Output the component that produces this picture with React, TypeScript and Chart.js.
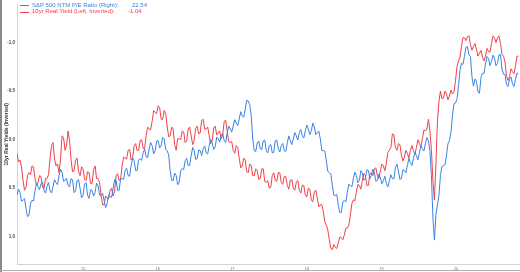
import React, { useEffect, useRef } from "react";
import { Chart, registerables } from "chart.js";

Chart.register(...registerables);

// Time axis (decimal years), roughly weekly spacing
const START_YEAR = 2014.61;
const STEP_YEARS = 0.02015;
const END_YEAR = 2021.36;

// 10yr real yield (%), plotted on an inverted left axis
const realYield = [
  0.14, 0.23, 0.21, 0.28, 0.42, 0.52, 0.49, 0.37, 0.34, 0.36, 0.27, 0.28, 0.40, 0.47, 0.44, 0.37,
  0.38, 0.49, 0.50, 0.40, 0.40, 0.36, 0.19, 0.06, 0.03, 0.20, 0.27, 0.25, 0.34, 0.20, -0.04, -0.02,
  0.11, 0.06, -0.09, 0.01, 0.21, 0.33, 0.32, 0.21, 0.19, 0.33, 0.37, 0.28, 0.30, 0.41, 0.42, 0.33,
  0.34, 0.45, 0.45, 0.31, 0.27, 0.40, 0.40, 0.44, 0.57, 0.67, 0.67, 0.58, 0.60, 0.61, 0.52, 0.50,
  0.58, 0.53, 0.37, 0.35, 0.42, 0.41, 0.27, 0.18, 0.19, 0.20, 0.11, 0.10, 0.21, 0.19, 0.06, 0.04,
  0.11, 0.11, 0.01, 0.00, 0.09, 0.09, -0.04, -0.13, -0.11, -0.10, -0.19, -0.30, -0.28, -0.27, -0.35, -0.33,
  -0.21, -0.21, -0.30, -0.27, -0.14, -0.03, -0.04, -0.13, -0.11, 0.05, 0.11, -0.01, -0.01, 0.00, -0.09, -0.08,
  0.03, 0.01, -0.11, -0.13, -0.04, 0.05, 0.01, -0.12, -0.14, -0.06, -0.07, -0.20, -0.21, -0.11, -0.11, -0.13,
  -0.04, 0.04, 0.01, -0.12, -0.14, -0.05, -0.07, -0.09, -0.01, -0.05, -0.19, -0.20, -0.09, 0.02, 0.03, 0.02,
  0.11, 0.14, 0.06, 0.08, 0.19, 0.29, 0.27, 0.19, 0.21, 0.33, 0.34, 0.25, 0.27, 0.37, 0.37, 0.30,
  0.32, 0.41, 0.40, 0.30, 0.30, 0.43, 0.44, 0.42, 0.50, 0.49, 0.37, 0.34, 0.42, 0.43, 0.34, 0.34,
  0.44, 0.46, 0.38, 0.38, 0.47, 0.51, 0.42, 0.41, 0.50, 0.52, 0.44, 0.42, 0.52, 0.55, 0.47, 0.47,
  0.57, 0.59, 0.50, 0.51, 0.62, 0.64, 0.54, 0.52, 0.60, 0.69, 0.67, 0.67, 0.74, 0.85, 0.88, 0.93,
  1.03, 1.12, 1.13, 1.08, 1.11, 1.12, 1.06, 1.00, 1.01, 1.03, 0.98, 0.91, 0.91, 0.88, 0.78, 0.66,
  0.62, 0.63, 0.54, 0.46, 0.47, 0.51, 0.42, 0.35, 0.37, 0.47, 0.47, 0.35, 0.34, 0.37, 0.30, 0.29,
  0.37, 0.40, 0.32, 0.25, 0.27, 0.32, 0.24, 0.13, 0.11, 0.08, -0.06, -0.05, 0.08, 0.11, 0.04, 0.05,
  0.16, 0.22, 0.18, 0.11, 0.14, 0.19, 0.11, 0.06, 0.11, 0.15, 0.08, 0.00, 0.04, 0.07, -0.01, -0.10,
  -0.09, -0.11, -0.21, -0.09, 0.11, 0.42, 0.62, 0.25, -0.19, -0.39, -0.50, -0.42, -0.43, -0.50, -0.47, -0.41,
  -0.45, -0.51, -0.47, -0.49, -0.60, -0.75, -0.81, -0.85, -0.96, -1.05, -1.05, -1.02, -1.06, -1.07, -0.98, -0.92,
  -0.96, -0.99, -0.93, -0.86, -0.89, -0.92, -0.85, -0.81, -0.86, -0.94, -0.91, -0.90, -0.99, -1.07, -1.05, -1.00,
  -1.05, -1.07, -0.99, -0.88, -0.86, -0.80, -0.66, -0.61, -0.65, -0.73, -0.70, -0.68, -0.76, -0.86, -0.86,
];

// S&P 500 forward (NTM) P/E ratio, plotted on a hidden right axis
const peRatio = [
  15.60, 15.93, 15.75, 15.30, 15.34, 15.43, 14.92, 14.49, 14.56, 15.20, 15.34, 15.30, 15.86, 16.22, 16.07, 15.90,
  16.22, 16.29, 15.86, 15.72, 16.07, 16.27, 15.86, 15.72, 16.07, 16.42, 16.27, 16.16, 16.64, 16.97, 16.79, 16.34,
  16.38, 16.50, 16.12, 16.05, 16.48, 16.42, 15.75, 15.82, 16.38, 16.42, 15.96, 15.48, 15.60, 16.19, 16.27, 15.61,
  15.44, 15.90, 15.86, 15.56, 15.75, 16.24, 16.12, 15.61, 15.60, 15.72, 15.34, 14.96, 15.18, 15.61, 15.54, 15.50,
  15.96, 16.42, 16.38, 15.87, 15.86, 16.47, 16.48, 16.44, 16.90, 17.02, 16.64, 16.60, 17.16, 17.54, 17.42, 16.91,
  16.90, 17.46, 17.52, 17.43, 17.83, 18.03, 17.62, 17.58, 18.04, 18.37, 18.20, 17.77, 17.94, 18.45, 18.46, 18.08,
  18.20, 18.63, 18.56, 18.00, 17.94, 17.72, 16.90, 16.39, 16.38, 16.76, 16.64, 16.16, 16.27, 16.89, 17.00, 16.96,
  17.42, 17.54, 17.16, 17.17, 17.68, 18.11, 17.94, 17.48, 17.52, 17.98, 17.94, 17.69, 18.04, 18.19, 17.83, 17.77,
  18.20, 18.53, 18.35, 18.00, 18.14, 18.65, 18.56, 18.39, 18.72, 18.84, 18.46, 18.37, 18.87, 19.23, 19.08, 18.91,
  19.23, 19.56, 19.39, 19.25, 19.60, 19.98, 19.76, 19.69, 20.12, 20.58, 20.54, 20.35, 19.76, 18.55, 17.94, 17.90,
  18.35, 18.45, 18.04, 18.00, 18.46, 18.50, 17.94, 17.82, 18.20, 18.27, 17.83, 17.85, 18.46, 18.50, 18.04, 17.87,
  18.20, 18.32, 17.94, 17.90, 18.35, 18.71, 18.46, 18.26, 18.56, 18.89, 18.72, 18.50, 18.87, 19.05, 18.72, 18.60,
  18.98, 19.28, 19.08, 18.78, 18.98, 19.38, 19.18, 18.78, 18.87, 18.97, 18.56, 17.95, 17.94, 17.93, 17.42, 16.86,
  16.79, 16.71, 16.12, 15.61, 15.60, 15.64, 15.08, 14.70, 14.71, 15.28, 15.34, 15.25, 15.75, 16.19, 16.12, 16.05,
  16.48, 16.81, 16.64, 16.26, 16.38, 16.89, 16.79, 16.39, 16.48, 16.94, 16.90, 16.47, 16.64, 16.97, 16.79, 16.34,
  16.38, 16.71, 16.53, 16.21, 16.38, 16.60, 16.22, 16.05, 16.38, 16.68, 16.48, 16.47, 17.05, 17.23, 16.90, 16.44,
  16.48, 16.94, 16.90, 16.78, 17.16, 17.54, 17.31, 17.17, 17.52, 17.85, 17.68, 17.46, 17.83, 18.19, 18.04, 17.92,
  18.30, 18.63, 18.46, 17.90, 16.64, 14.40, 13.26, 14.60, 15.08, 15.60, 16.64, 17.10, 17.16, 17.20, 17.68, 18.30,
  18.46, 18.90, 19.76, 20.40, 20.43, 20.62, 21.31, 22.15, 22.51, 22.45, 22.87, 23.35, 23.39, 22.95, 22.87, 21.80,
  21.31, 21.69, 21.57, 21.01, 20.95, 21.77, 21.99, 21.98, 22.46, 22.87, 22.77, 22.39, 22.61, 22.94, 22.77, 22.39,
  22.51, 22.95, 22.98, 22.21, 21.94, 21.93, 21.42, 21.30, 21.68, 21.80, 21.42, 21.30, 21.68, 22.01, 21.94,
];

const yearTickValues = [2015.5, 2016.5, 2017.5, 2018.5, 2019.5, 2020.5];
const yearTickLabels = ["15", "16", "17", "18", "19", "20"];
const leftTickValues = [-1.0, -0.5, 0.0, 0.5, 1.0];

const seriesNames = ["S&P 500 NTM P/E Ratio (Right):", "10yr Real Yield (Left, Inverted):"];
const seriesLast = ["22.54", "-1.04"];
const seriesColors = ["#3a82e4", "#f0404a"];

const toPoints = (vals: number[]) => vals.map((v, i) => ({ x: START_YEAR + i * STEP_YEARS, y: v }));

export default function App() {
  const ref = useRef<HTMLCanvasElement | null>(null);

  useEffect(() => {
    document.body.style.margin = "0";
    const canvas = ref.current;
    if (!canvas) return;
    const chart = new Chart(canvas, {
      type: "line",
      data: {
        datasets: [
          {
            label: seriesNames[0],
            data: toPoints(peRatio),
            borderColor: seriesColors[0],
            borderWidth: 1,
            pointRadius: 0,
            yAxisID: "y1",
            tension: 0,
          },
          {
            label: seriesNames[1],
            data: toPoints(realYield),
            borderColor: seriesColors[1],
            borderWidth: 1,
            pointRadius: 0,
            yAxisID: "y",
            tension: 0,
          },
        ],
      },
      options: {
        animation: false,
        responsive: false,
        maintainAspectRatio: false,
        devicePixelRatio: 1,
        layout: { padding: { top: 3, left: 0, right: 0, bottom: 0 } },
        plugins: { legend: { display: false }, tooltip: { enabled: false } },
        scales: {
          x: {
            type: "linear",
            min: START_YEAR,
            max: END_YEAR,
            grid: { display: false, drawTicks: false },
            border: { display: true, color: "#d4d4d4", width: 1 },
            afterBuildTicks: (axis: any) => {
              axis.ticks = yearTickValues.map((v) => ({ value: v }));
            },
            afterFit: (axis: any) => {
              axis.height = 8;
            },
            ticks: {
              autoSkip: false,
              maxRotation: 0,
              padding: 2,
              color: "#777",
              font: { size: 4, family: "Arial, 'Liberation Sans', sans-serif" },
              callback: (v: any) => {
                const idx = yearTickValues.indexOf(Number(v));
                return idx >= 0 ? yearTickLabels[idx] : "";
              },
            },
          },
          y: {
            type: "linear",
            position: "left",
            reverse: true,
            min: -1.39,
            max: 1.28,
            grid: { display: false, drawTicks: false },
            border: { display: true, color: "#d4d4d4", width: 1 },
            afterBuildTicks: (axis: any) => {
              axis.ticks = leftTickValues.map((v) => ({ value: v }));
            },
            afterFit: (axis: any) => {
              axis.width = 17;
            },
            title: {
              display: true,
              text: "10yr Real Yields (Inverted)",
              color: "#333",
              font: { size: 5, weight: "bold", family: "Arial, 'Liberation Sans', sans-serif" },
              padding: { top: 4, bottom: 0 },
            },
            ticks: {
              padding: 2,
              color: "#444",
              font: { size: 4.5, weight: "bold", family: "Arial, 'Liberation Sans', sans-serif" },
              callback: (v: any) => Number(v).toFixed(1),
            },
          },
          y1: {
            type: "linear",
            position: "right",
            display: false,
            min: 12.01,
            max: 25.58,
          },
        },
      },
    } as any);
    return () => chart.destroy();
  }, []);

  const legendFont = "Arial, 'Liberation Sans', sans-serif";
  return (
    <div style={{ position: "relative", width: 520, height: 272, background: "#fff", overflow: "hidden" }}>
      <canvas ref={ref} width={520} height={272} style={{ position: "absolute", left: 0, top: 0, width: 520, height: 272 }} />
      {[0, 1].map((i) => (
        <div key={i}>
          <div
            style={{
              position: "absolute",
              left: 20,
              top: 5 + i * 6.5,
              width: 9,
              height: 1,
              background: seriesColors[i],
            }}
          />
          <div
            style={{
              position: "absolute",
              left: 32,
              top: 1.5 + i * 6.5,
              fontFamily: legendFont,
              fontSize: 6,
              lineHeight: "7px",
              color: seriesColors[i],
              whiteSpace: "nowrap",
            }}
          >
            {seriesNames[i]}
          </div>
          <div
            style={{
              position: "absolute",
              left: i === 0 ? 132 : 128,
              top: 1.5 + i * 6.5,
              fontFamily: legendFont,
              fontSize: 6,
              lineHeight: "7px",
              color: seriesColors[i],
              whiteSpace: "nowrap",
            }}
          >
            {seriesLast[i]}
          </div>
        </div>
      ))}
      <div style={{ position: "absolute", left: 0, top: 0, width: 2, height: 272, background: "#8a8a8a" }} />
      <div style={{ position: "absolute", left: 0, top: 270, width: 520, height: 1, background: "#b0b0b0" }} />
    </div>
  );
}
